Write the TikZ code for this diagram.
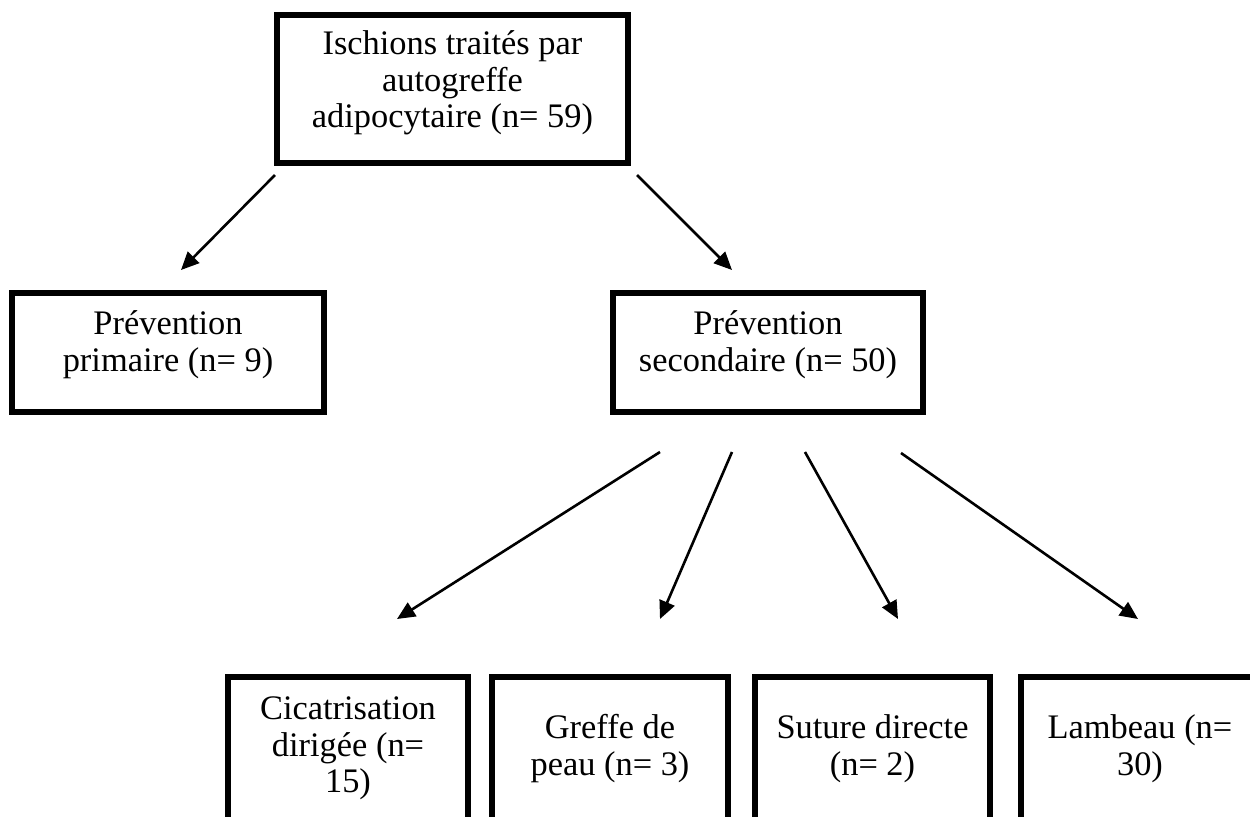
\documentclass[tikz,border=0pt]{standalone}
\usepackage{fontspec}
\setmainfont{Liberation Serif}
\usetikzlibrary{arrows.meta}
\begin{document}
\begin{tikzpicture}[x=0.5pt,y=-0.5pt,
  frame/.style={draw,line width=2.6pt,inner sep=0pt,minimum width=#1},
  lbl/.style={align=center,inner sep=0pt,font=\fontsize{17.2}{18.25}\selectfont},
  arr/.style={line width=1.3pt,-{Triangle[length=9pt,width=8pt]}}]
\useasboundingbox (0,0) rectangle (1250,816);
% boxes
\node[frame=175.5pt,minimum height=74pt] (top) at (452.5,89) {};
\node[lbl] (topT) at ([yshift=3pt]top.center) {Ischions traités par\\autogreffe\\adipocytaire (n= 59)};
\node[frame=156pt,minimum height=59.5pt] (prim) at (168,352.5) {};
\node[lbl] (primT) at ([yshift=4pt]prim.center) {Prévention\\primaire (n= 9)};
\node[frame=155pt,minimum height=59.5pt] (sec) at (768,352.5) {};
\node[lbl] (secT) at ([yshift=4pt]sec.center) {Prévention\\secondaire (n= 50)};
\node[frame=120pt,minimum height=72.5pt] (cic) at (348,749.5) {};
\node[lbl] (cicT) at ([yshift=0.5pt]cic.center) {Cicatrisation\\dirigée (n=\\15)};
\node[frame=118pt,minimum height=72.5pt] (gre) at (610,749.5) {};
\node[lbl] (greT) at ([yshift=0.5pt]gre.center) {Greffe de\\peau (n= 3)};
\node[frame=117.5pt,minimum height=72.5pt] (sut) at (872.5,749.5) {};
\node[lbl] (sutT) at ([yshift=0.5pt]sut.center) {Suture directe\\(n= 2)};
\node[frame=119pt,minimum height=72.5pt] (lam) at (1140,749.5) {};
\node[lbl] (lamT) at ([yshift=0.5pt]lam.center) {Lambeau (n=\\30)};
% arrow end points
\coordinate (a1s) at (275,175); \coordinate (a1e) at (181,270);
\coordinate (a2s) at (637,175); \coordinate (a2e) at (732,270);
\coordinate (b1s) at (660,452); \coordinate (b1e) at (397,619);
\coordinate (b2s) at (732,452); \coordinate (b2e) at (660,619);
\coordinate (b3s) at (805,452); \coordinate (b3e) at (898,619);
\coordinate (b4s) at (901,453); \coordinate (b4e) at (1138,619);
\draw[arr] (a1s) -- (a1e);
\draw[arr] (a2s) -- (a2e);
\draw[arr] (b1s) -- (b1e);
\draw[arr] (b2s) -- (b2e);
\draw[arr] (b3s) -- (b3e);
\draw[arr] (b4s) -- (b4e);
\end{tikzpicture}
\end{document}
